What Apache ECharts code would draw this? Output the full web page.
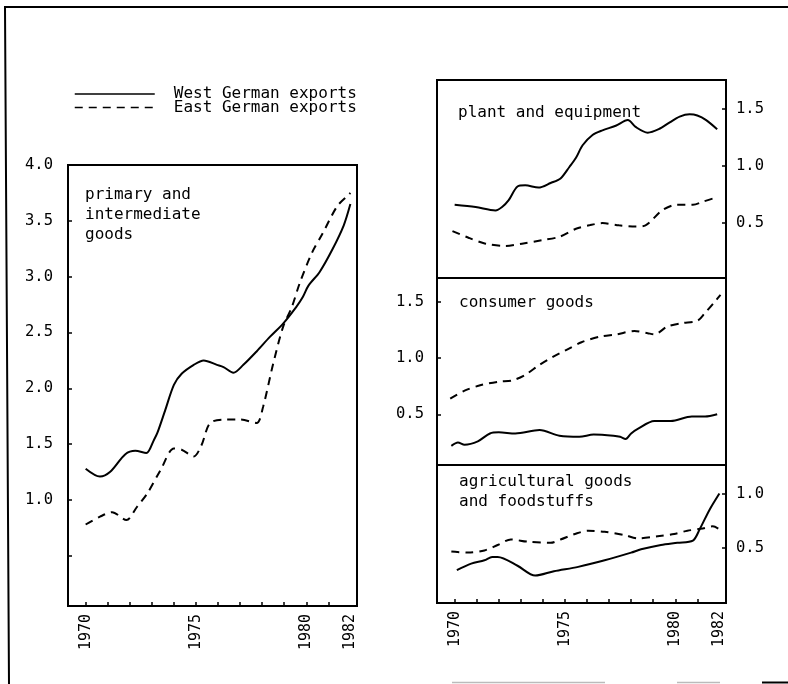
<!DOCTYPE html>
<html>
<head>
<meta charset="utf-8">
<script src="https://cdn.jsdelivr.net/npm/echarts@6/dist/echarts.min.js"></script>
<style>
  html, body { margin: 0; padding: 0; background: #fff; }
  #chart { width: 788px; height: 684px; }
</style>
</head>
<body>
<div id="chart"></div>
<script>
// Export volumes, West vs East Germany, 1970-1982, by commodity group
// Each series: [year, value]
const primaryWest = [[1970.0,1.28],[1970.65,1.21],[1971.1,1.25],[1971.8,1.41],[1972.25,1.44],[1972.75,1.42],[1973.1,1.54],[1973.25,1.60],[1973.6,1.80],[1974.0,2.03],[1974.35,2.13],[1974.9,2.21],[1975.35,2.25],[1975.95,2.21],[1976.25,2.19],[1976.7,2.14],[1977.15,2.21],[1977.75,2.33],[1978.35,2.46],[1978.95,2.58],[1979.55,2.73],[1979.85,2.82],[1980.1,2.92],[1980.6,3.04],[1981.2,3.25],[1981.7,3.46],[1982.0,3.65]];
const primaryEast = [[1970.0,0.78],[1970.65,0.85],[1971.2,0.89],[1971.85,0.82],[1972.3,0.93],[1972.8,1.06],[1973.4,1.27],[1974.0,1.46],[1974.35,1.45],[1974.9,1.39],[1975.25,1.49],[1975.65,1.69],[1976.4,1.72],[1977.0,1.72],[1977.75,1.69],[1978.05,1.84],[1978.5,2.22],[1978.95,2.55],[1979.35,2.73],[1979.7,2.94],[1980.25,3.21],[1980.75,3.39],[1981.4,3.63],[1981.9,3.73],[1982.0,3.75]];

const plantWest = [[1970.0,0.66],[1970.95,0.64],[1971.85,0.61],[1972.15,0.64],[1972.45,0.70],[1972.85,0.82],[1973.2,0.83],[1973.8,0.81],[1974.35,0.85],[1974.8,0.89],[1975.2,0.99],[1975.5,1.07],[1975.8,1.18],[1976.25,1.27],[1976.7,1.31],[1977.3,1.35],[1977.85,1.40],[1978.2,1.34],[1978.75,1.29],[1979.25,1.32],[1979.75,1.38],[1980.2,1.43],[1980.65,1.45],[1981.0,1.44],[1981.4,1.40],[1981.9,1.32]];
const plantEast = [[1969.9,0.43],[1970.65,0.37],[1971.4,0.32],[1972.3,0.30],[1973.05,0.32],[1973.95,0.35],[1974.75,0.38],[1975.5,0.45],[1976.1,0.48],[1976.7,0.50],[1977.45,0.48],[1978.2,0.47],[1978.65,0.48],[1979.4,0.61],[1980.05,0.66],[1980.8,0.66],[1981.3,0.69],[1981.8,0.72]];

const consumerWest = [[1969.85,0.22],[1970.15,0.25],[1970.45,0.23],[1971.05,0.26],[1971.6,0.33],[1972.0,0.34],[1972.75,0.33],[1973.85,0.36],[1974.75,0.31],[1975.65,0.30],[1976.3,0.32],[1977.2,0.31],[1977.5,0.30],[1977.75,0.28],[1978.0,0.33],[1978.3,0.37],[1979.05,0.44],[1979.8,0.44],[1980.75,0.48],[1981.35,0.48],[1981.9,0.50]];
const consumerEast = [[1969.8,0.64],[1970.45,0.71],[1971.2,0.76],[1972.0,0.79],[1972.6,0.80],[1973.2,0.85],[1973.85,0.94],[1974.45,1.01],[1975.05,1.07],[1975.75,1.14],[1976.6,1.19],[1977.35,1.21],[1978.15,1.24],[1978.75,1.22],[1979.05,1.21],[1979.65,1.28],[1980.3,1.31],[1981.0,1.33],[1981.35,1.40],[1981.75,1.49],[1982.05,1.56]];

const agriWest = [[1970.1,0.30],[1970.75,0.36],[1971.35,0.39],[1971.7,0.42],[1971.95,0.42],[1972.85,0.34],[1973.65,0.25],[1974.5,0.29],[1975.6,0.33],[1976.8,0.39],[1978.0,0.46],[1978.45,0.49],[1979.35,0.53],[1980.1,0.55],[1980.8,0.57],[1981.1,0.67],[1981.55,0.85],[1982.0,1.00]];
const agriEast = [[1969.85,0.47],[1970.6,0.46],[1971.35,0.48],[1971.95,0.53],[1972.55,0.58],[1973.3,0.56],[1974.35,0.55],[1974.8,0.58],[1975.45,0.63],[1976.05,0.66],[1976.8,0.65],[1977.7,0.62],[1978.3,0.59],[1979.2,0.61],[1979.95,0.63],[1980.55,0.66],[1981.25,0.68],[1981.7,0.70],[1981.95,0.68]];

// Axis marks
const yearTicks = [1970,1971,1972,1973,1974,1975,1976,1977,1978,1979,1980,1981];
const yearLabels = [1970,1975,1980,1982];
const primaryTicks = [0.5,1.0,1.5,2.0,2.5,3.0,3.5,4.0];
const primaryLabels = [1.0,1.5,2.0,2.5,3.0,3.5,4.0];
const plantTicks = [0.5,1.0,1.5];
const consumerTicks = [0.5,1.0,1.5];
const agriTicks = [0.5,1.0];

const seriesNames = ['West German exports', 'East German exports'];
const panelTitles = ['primary and\nintermediate\ngoods', 'plant and equipment', 'consumer goods', 'agricultural goods\nand foodstuffs'];

const FONT = 'DejaVu Sans Mono';
const DASH = [8, 6];

function xAxisFor(gridIndex, withLabels) {
  return {
    type: 'value', gridIndex, min: 1969.2, max: 1982.3,
    axisLine: { show: false },
    splitLine: { show: false },
    axisTick: withLabels
      ? { show: true, inside: true, length: 4, customValues: yearTicks, lineStyle: { color: '#000', width: 1.5 } }
      : { show: false },
    axisLabel: withLabels
      ? { show: true, rotate: 90, margin: 8, customValues: yearLabels, color: '#000',
          fontFamily: FONT, fontSize: 15, formatter: v => String(Math.round(v)) }
      : { show: false }
  };
}

function yAxisFor(gridIndex, min, max, ticks, labels, position, margin) {
  return {
    type: 'value', gridIndex, min, max, position,
    axisLine: { show: false },
    splitLine: { show: false },
    axisTick: { show: true, inside: true, length: 4, customValues: ticks, lineStyle: { color: '#000', width: 1.5 } },
    axisLabel: { show: true, margin, customValues: labels, color: '#000',
                 fontFamily: FONT, fontSize: 15.5, formatter: v => v.toFixed(1) }
  };
}

function lineSeries(name, data, idx, dashed) {
  return {
    name, type: 'line', data, xAxisIndex: idx, yAxisIndex: idx,
    symbol: 'none', smooth: 0.3, silent: true,
    color: '#000',
    lineStyle: { color: '#000', width: 2, type: dashed ? DASH : 'solid' }
  };
}

const gridStyle = { show: true, borderColor: '#000', borderWidth: 2, backgroundColor: 'transparent' };
const titleText = { fontFamily: FONT, fontSize: 16, fontWeight: 'normal', color: '#000', lineHeight: 20 };

const chart = echarts.init(document.getElementById('chart'), null, { renderer: 'canvas' });
chart.setOption({
  animation: false,
  backgroundColor: '#fff',
  textStyle: { fontFamily: FONT },
  legend: {
    data: seriesNames,
    orient: 'vertical', left: 74, top: 86, padding: 0,
    itemWidth: 80, itemHeight: 13, itemGap: -2.5,
    selectedMode: false,
    itemStyle: { opacity: 0 },
    lineStyle: { width: 1.5 },
    textStyle: { fontFamily: FONT, fontSize: 16, lineHeight: 13, color: '#000', padding: [0, 0, 0, 14] }
  },
  title: [
    { text: panelTitles[0], left: 85, top: 185, padding: 0, textStyle: titleText },
    { text: panelTitles[1], left: 458, top: 103, padding: 0, textStyle: titleText },
    { text: panelTitles[2], left: 459, top: 293, padding: 0, textStyle: titleText },
    { text: panelTitles[3], left: 459, top: 472, padding: 0, textStyle: titleText }
  ],
  grid: [
    Object.assign({ left: 68, top: 165, width: 289, height: 441 }, gridStyle),
    Object.assign({ left: 437, top: 80, width: 289, height: 198 }, gridStyle),
    Object.assign({ left: 437, top: 278, width: 289, height: 187 }, gridStyle),
    Object.assign({ left: 437, top: 465, width: 289, height: 138 }, gridStyle)
  ],
  xAxis: [xAxisFor(0, true), xAxisFor(1, false), xAxisFor(2, false), xAxisFor(3, true)],
  yAxis: [
    yAxisFor(0, 0.05, 4.0, primaryTicks, primaryLabels, 'left', 15),
    yAxisFor(1, 0.02, 1.75, plantTicks, plantTicks, 'right', 10),
    yAxisFor(2, 0.05, 1.71, consumerTicks, consumerTicks, 'left', 13),
    yAxisFor(3, 0.0, 1.26, agriTicks, agriTicks, 'right', 10)
  ],
  series: [
    lineSeries(seriesNames[0], primaryWest, 0, false),
    lineSeries(seriesNames[1], primaryEast, 0, true),
    lineSeries(seriesNames[0], plantWest, 1, false),
    lineSeries(seriesNames[1], plantEast, 1, true),
    lineSeries(seriesNames[0], consumerWest, 2, false),
    lineSeries(seriesNames[1], consumerEast, 2, true),
    lineSeries(seriesNames[0], agriWest, 3, false),
    lineSeries(seriesNames[1], agriEast, 3, true)
  ],
  graphic: [
    // page frame
    { type: 'polyline', silent: true,
      shape: { points: [[9, 684], [5, 7], [788, 7]] },
      style: { stroke: '#000', lineWidth: 2, fill: null } },
    { type: 'line', silent: true, shape: { x1: 452, y1: 682.5, x2: 605, y2: 682.5 },
      style: { stroke: '#bbb', lineWidth: 1.5 } },
    { type: 'line', silent: true, shape: { x1: 677, y1: 682.5, x2: 720, y2: 682.5 },
      style: { stroke: '#bbb', lineWidth: 1.5 } },
    { type: 'line', silent: true, shape: { x1: 762, y1: 682.5, x2: 788, y2: 682.5 },
      style: { stroke: '#000', lineWidth: 2 } }
  ]
});
</script>
</body>
</html>
